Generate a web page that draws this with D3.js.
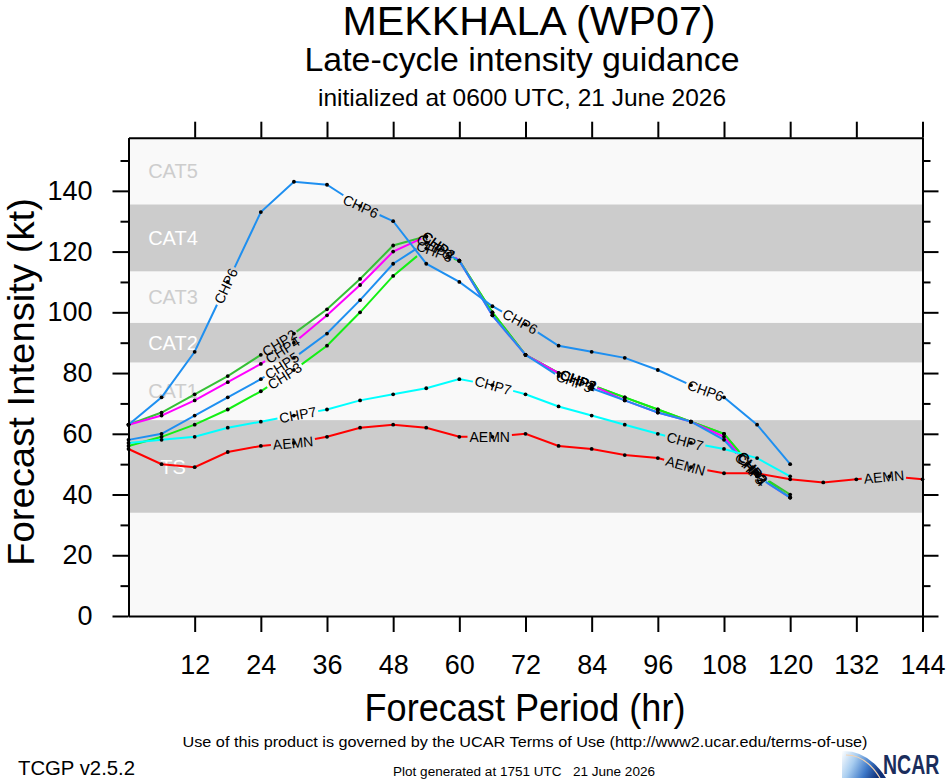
<!DOCTYPE html>
<html>
<head>
<meta charset="utf-8">
<script src="https://cdn.jsdelivr.net/npm/d3@7"></script>
<style>
body { margin: 0; background: #fff; }
text { font-family: "Liberation Sans", Arial, Helvetica, sans-serif; }
</style>
</head>
<body>
<script>

// forecast hours and intensities (kt)
var hours = [0,6,12,18,24,30,36,42,48,54,60,66,72,78,84,90,96,102,108,114,120,126,132,138,144];

var chp2 = [63,67,73,79,86,93,101,111,122,125,117,100,86,80,76,72,68,64,60,47,40];
var chp3 = [56,59,63,68,74,81,89,100,112,121,117,100,86,80,76,72,68,64,60,47,39];
var chp4 = [63,66,71,77,83,90,99,109,120,125,117,99,86,80,76,71,67,64,59,46,39];
var chp5 = [58,60,66,72,78,85,93,104,116,123,117,99,86,79,75,71,67,64,58,46,39];
var chp6 = [63,72,87,110,133,143,142,135,130,116,110,102,96,89,87,85,81,76,72,63,50];
var chp7 = [57,58,59,62,64,66,68,71,73,75,78,76,73,69,66,63,60,57,55,52,46];
var aemn = [55,50,49,54,56,57,59,62,63,62,59,59,60,56,55,53,52,49,47,47,45,44,45,46,45];

var seriesNames = ["CHP2","CHP3","CHP4","CHP5","CHP6","CHP7","AEMN"];
var seriesValues = [chp2, chp3, chp4, chp5, chp6, chp7, aemn];
var seriesColors = ["#36c036","#14ef14","#ff00ff","#1e8ff0","#1e8ff0","#00ffff","#ff0000"];

var bandNames = ["TS","CAT1","CAT2","CAT3","CAT4","CAT5"];
var bandFloors = [34,64.5,83.5,96.5,113.5,135.5];

var xTicks = [12,24,36,48,60,72,84,96,108,120,132,144];
var yTicks = [0,20,40,60,80,100,120,140];
var yMinor = [10,30,50,70,90,110,130,150];

var width = 946,
	height = 780,
	yMax = 157.5;

var svg = d3.select("body").append("svg")
	.attr("width", width)
	.attr("height", height);

var x = d3.scaleLinear().domain([0,144]).range([128.5,922.5]);
var y = d3.scaleLinear().domain([0,yMax]).range([616,137.7]);

// plot background and category bands
svg.append("rect")
	.attr("x", x(0)).attr("y", y(yMax))
	.attr("width", x(144) - x(0)).attr("height", y(0) - y(yMax))
	.style("fill", "#f9f9f9");

var bands = bandNames.map(function(n, i){
	return {name: n, lo: bandFloors[i], hi: i < bandFloors.length - 1 ? bandFloors[i+1] : yMax, dark: i % 2 == 0};
});

svg.selectAll(".band")
	.data(bands.filter(function(d){ return d.dark; }))
	.enter().append("rect")
	.attr("class", "band")
	.attr("x", x(0))
	.attr("width", x(144) - x(0))
	.attr("y", function(d){ return y(d.hi); })
	.attr("height", function(d){ return y(d.lo) - y(d.hi); })
	.style("fill", "#cccccc");

svg.selectAll(".band-label")
	.data(bands)
	.enter().append("text")
	.attr("class", "band-label")
	.attr("x", 173)
	.attr("y", function(d){ return y((d.lo + d.hi) / 2); })
	.attr("dy", "0.36em")
	.attr("text-anchor", "middle")
	.attr("font-size", 20)
	.style("fill", function(d){ return d.dark ? "#ffffff" : "#cdcdcd"; })
	.text(function(d){ return d.name; });

// lines
var line = d3.line()
	.x(function(d, i){ return x(hours[i]); })
	.y(function(d){ return y(d); });

function labelSpots(pts){
	var spots = [], s = 0, next = 172;
	for (var i = 1; i < pts.length; i++) {
		var dx = pts[i][0] - pts[i-1][0],
			dy = pts[i][1] - pts[i-1][1],
			len = Math.sqrt(dx*dx + dy*dy);
		while (next <= s + len) {
			var t = (next - s) / len;
			spots.push({s: next, x: pts[i-1][0] + dx*t, y: pts[i-1][1] + dy*t, a: Math.atan2(dy, dx) * 180 / Math.PI});
			next += 200;
		}
		s += len;
	}
	return {spots: spots, total: s};
}

var lineLayer = svg.append("g");
var labelLayer = svg.append("g");
var dotLayer = svg.append("g");

seriesValues.forEach(function(vals, k){
	var pts = vals.map(function(v, i){ return [x(hours[i]), y(v)]; });
	var info = labelSpots(pts);

	var labels = labelLayer.selectAll(".lbl-" + k)
		.data(info.spots)
		.enter().append("text")
		.attr("class", "lbl-" + k)
		.attr("transform", function(d){ return "translate(" + d.x + "," + d.y + ") rotate(" + d.a + ")"; })
		.attr("text-anchor", "middle")
		.attr("dy", "0.36em")
		.attr("font-size", 14)
		.style("fill", "#000")
		.text(seriesNames[k]);

	var gap = labels.size() ? labels.node().getComputedTextLength() + 4 : 0;
	var dash = [], prev = 0;
	info.spots.forEach(function(sp){
		dash.push(Math.max(0, sp.s - gap/2 - prev), gap);
		prev = sp.s + gap/2;
	});
	dash.push(info.total - prev + 20, 0);

	lineLayer.append("path")
		.datum(vals)
		.attr("d", line)
		.style("fill", "none")
		.style("stroke", seriesColors[k])
		.style("stroke-width", 2)
		.style("stroke-dasharray", dash.join(","));

	dotLayer.selectAll(".dot-" + k)
		.data(vals)
		.enter().append("circle")
		.attr("class", "dot-" + k)
		.attr("cx", function(d, i){ return x(hours[i]); })
		.attr("cy", function(d){ return y(d); })
		.attr("r", 1.9)
		.style("fill", "#000");
});

// axes / frame
function styleAxis(g){
	g.selectAll("path, line").style("stroke", "#000").style("stroke-width", 2);
	g.attr("font-size", 27).attr("font-family", "Liberation Sans, Arial, sans-serif");
	g.selectAll("text").style("fill", "#000");
}

svg.append("g").attr("transform", "translate(0," + y(0) + ")")
	.call(d3.axisBottom(x).tickValues(xTicks).tickSize(16).tickSizeOuter(0).tickPadding(23))
	.call(styleAxis);
svg.append("g").attr("transform", "translate(0," + y(yMax) + ")")
	.call(d3.axisTop(x).tickValues(xTicks).tickSize(16).tickSizeOuter(0).tickFormat(""))
	.call(styleAxis);
svg.append("g").attr("transform", "translate(" + x(0) + ",0)")
	.call(d3.axisLeft(y).tickValues(yTicks).tickSize(16).tickSizeOuter(0).tickPadding(20))
	.call(styleAxis);
svg.append("g").attr("transform", "translate(" + x(0) + ",0)")
	.call(d3.axisLeft(y).tickValues(yMinor).tickSize(8).tickSizeOuter(0).tickFormat(""))
	.call(styleAxis);
svg.append("g").attr("transform", "translate(" + x(144) + ",0)")
	.call(d3.axisRight(y).tickValues(yTicks).tickSize(16).tickSizeOuter(0).tickFormat(""))
	.call(styleAxis);
svg.append("g").attr("transform", "translate(" + x(144) + ",0)")
	.call(d3.axisRight(y).tickValues(yMinor).tickSize(8).tickSizeOuter(0).tickFormat(""))
	.call(styleAxis);

// titles and footer
function addText(str, px, py, size, len, opts){
	var t = svg.append("text")
		.attr("x", px).attr("y", py)
		.attr("font-size", size)
		.attr("text-anchor", (opts && opts.anchor) || "middle")
		.style("fill", "#000")
		.style("white-space", "pre")
		.text(str);
	if (len) t.attr("textLength", len).attr("lengthAdjust", "spacingAndGlyphs");
	return t;
}

addText("MEKKHALA (WP07)", 529, 35, 40, 373);
addText("Late-cycle intensity guidance", 522, 71, 34, 435);
addText("initialized at 0600 UTC, 21 June 2026", 522, 106, 24, 408);
addText("Forecast Period (hr)", 525, 721, 38, 321);

svg.append("text")
	.attr("transform", "translate(34,382) rotate(-90)")
	.attr("text-anchor", "middle")
	.attr("font-size", 37)
	.attr("textLength", 368)
	.attr("lengthAdjust", "spacingAndGlyphs")
	.style("fill", "#000")
	.text("Forecast Intensity (kt)");

addText("Use of this product is governed by the UCAR Terms of Use (http://www2.ucar.edu/terms-of-use)", 525, 747, 15, 685);
addText("TCGP v2.5.2", 18, 775, 20, 117, {anchor: "start"});
addText("Plot generated at 1751 UTC   21 June 2026", 524, 776, 12.5, 262);

// NCAR logo
var defs = svg.append("defs");
var grad = defs.append("linearGradient").attr("id", "swoosh")
	.attr("x1", "0").attr("y1", "0").attr("x2", "1").attr("y2", "0.3");
grad.append("stop").attr("offset", "0").attr("stop-color", "#ffffff");
grad.append("stop").attr("offset", "0.35").attr("stop-color", "#a8cdf0");
grad.append("stop").attr("offset", "0.7").attr("stop-color", "#3d78c8");
grad.append("stop").attr("offset", "1").attr("stop-color", "#0f2f78");

svg.append("path")
	.attr("d", "M842,751 Q868,750 886,778 L842,778 Z")
	.style("fill", "url(#swoosh)");
svg.append("path")
	.attr("d", "M846,755 Q866,755 880,778")
	.style("fill", "none")
	.style("stroke", "#f3d2b0")
	.style("stroke-width", 1.2);

svg.append("text")
	.attr("transform", "translate(883,774) scale(1,1.4)")
	.attr("font-size", 19.5)
	.attr("font-weight", "bold")
	.style("fill", "#1b2d5c")
	.text("NCAR");

</script>
</body>
</html>
